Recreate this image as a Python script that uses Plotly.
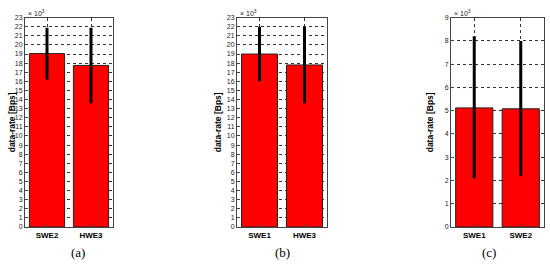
import plotly.graph_objects as go

# values in units of 10^3 Bps
cats_a = ['SWE2', 'HWE3']
mean_a = [19.05, 17.75]
lo_a = [16.2, 13.6]
hi_a = [21.9, 21.9]

cats_b = ['SWE1', 'HWE3']
mean_b = [19.0, 17.8]
lo_b = [16.0, 13.6]
hi_b = [22.0, 22.0]

cats_c = ['SWE1', 'SWE2']
mean_c = [5.12, 5.08]
lo_c = [2.1, 2.2]
hi_c = [8.2, 8.0]

panels = [
    (cats_a, mean_a, lo_a, hi_a, 23, (25, 113), 20, '(a)'),
    (cats_b, mean_b, lo_b, hi_b, 23, (237, 327), 19, '(b)'),
    (cats_c, mean_c, lo_c, hi_c, 9, (451, 544), 14, '(c)'),
]

W, H = 550, 266
top_px, bot_px = 14, 229

fig = go.Figure()
font = 'Liberation Sans, Arial, sans-serif'

for i, (cats, mean, lo, hi, ymax, (x0, x1), tofs, cap) in enumerate(panels):
    n = '' if i == 0 else str(i + 1)
    fig.add_trace(go.Bar(
        x=cats, y=mean, width=0.8,
        marker=dict(color='#ff0000', line=dict(color='#222222', width=1)),
        error_y=dict(type='data', symmetric=False,
                     array=[h - m for h, m in zip(hi, mean)],
                     arrayminus=[m - l for m, l in zip(mean, lo)],
                     color='black', thickness=3, width=0),
        xaxis='x' + n, yaxis='y' + n, showlegend=False,
    ))
    dom_x = [x0 / W, x1 / W]
    dom_y = [1 - bot_px / H, 1 - top_px / H]
    axis_common = dict(showline=True, mirror=True, linecolor='#444444', linewidth=1,
                       showgrid=True, gridcolor='#333333', griddash='dot', gridwidth=1,
                       ticks='inside', ticklen=3, tickcolor='#444444',
                       zeroline=False)
    fig.update_layout(**{
        'xaxis' + n: dict(domain=dom_x, anchor='y' + n, range=[-0.5, 1.5],
                          tickfont=dict(size=8, family=font, color='black', weight='bold'),
                          **axis_common),
        'yaxis' + n: dict(domain=dom_y, anchor='x' + n, range=[0, ymax], dtick=1,
                          tickfont=dict(size=7, family=font, color='#222222'),
                          **axis_common),
    })
    fig.add_annotation(x=(x0 + 1) / W, y=1 - 9 / H, xref='paper', yref='paper',
                       text='× 10<sup>3</sup>', showarrow=False, xanchor='left',
                       yanchor='middle',
                       font=dict(size=7, family=font, color='#222222'))
    fig.add_annotation(x=(x0 - tofs) / W, y=1 - (top_px + bot_px) / 2 / H,
                       xref='paper', yref='paper', text='<b>data-rate [Bps]</b>',
                       textangle=-90, showarrow=False,
                       font=dict(size=8.5, family=font, color='black'))
    fig.add_annotation(x=(x0 + x1) / 2 / W, y=1 - 255 / H, xref='paper', yref='paper',
                       text=cap, showarrow=False, yanchor='middle',
                       font=dict(size=13, family='Liberation Serif, serif', color='black'))

fig.update_layout(width=W, height=H, margin=dict(l=0, r=0, t=0, b=0),
                  paper_bgcolor='white', plot_bgcolor='white', bargap=0.2)
fig.write_html('out.html', post_script="document.body.style.margin='0';",
               config={'displayModeBar': False})
